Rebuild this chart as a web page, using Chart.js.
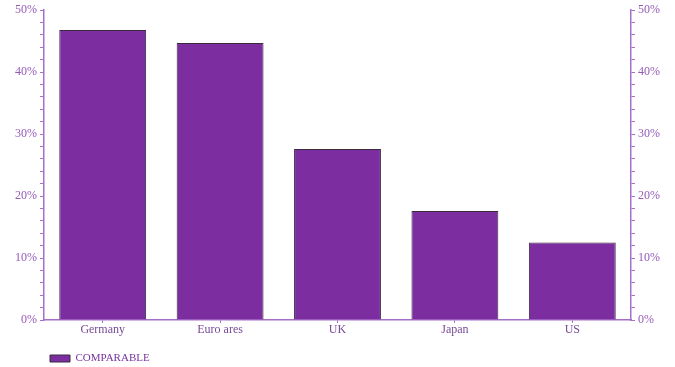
<!DOCTYPE html>
<html>
<head>
<meta charset="utf-8">
<script src="https://cdn.jsdelivr.net/npm/chart.js@4.4.1/dist/chart.umd.min.js"></script>
<style>
  html, body { margin: 0; padding: 0; background: #fff; }
  #wrap { width: 675px; height: 367px; position: relative; }
</style>
</head>
<body>
<div id="wrap"><canvas id="shareChart"></canvas></div>
<script>
const countries = ['Germany', 'Euro ares', 'UK', 'Japan', 'US'];
const comparable = [46.8, 44.7, 27.6, 17.6, 12.5];
const seriesName = 'COMPARABLE';
const axisMax = 50;
const minorStep = 2;
const majorStep = 10;

const purple = 'rgb(124, 46, 160)';
const axisPurple = 'rgb(165, 110, 200)';
const labelPurple = 'rgb(150, 90, 185)';

Chart.defaults.font.family = "'Liberation Serif', 'Times New Roman', serif";

// shared look for both percentage axes; only every 10% gets a label
function percentAxis(position, width) {
    return {
        position: position,
        min: 0,
        max: axisMax,
        afterFit: s => { s.width = width; },
        border: { color: axisPurple, width: 1.5 },
        grid: {
            drawOnChartArea: false,
            tickLength: 4,
            tickColor: axisPurple,
            tickWidth: 1
        },
        ticks: {
            stepSize: minorStep,
            autoSkip: false,
            padding: 3,
            color: labelPurple,
            font: { size: 12 },
            callback: v => v % majorStep === 0 ? v + '%' : ''
        }
    };
}

const ctx = document.getElementById('shareChart').getContext('2d');
const chart = new Chart(ctx, {
    type: 'bar',
    data: {
        labels: countries,
        datasets: [{
            label: seriesName,
            data: comparable,
            backgroundColor: purple,
            borderColor: '#3a2a40',
            borderWidth: 1,
            borderSkipped: 'bottom',
            categoryPercentage: 0.74,
            barPercentage: 1
        }]
    },
    options: {
        responsive: true,
        maintainAspectRatio: false,
        animation: false,
        layout: { padding: { top: 7, left: 0, right: 0, bottom: -7 } },
        plugins: {
            tooltip: { enabled: false },
            legend: {
                position: 'bottom',
                align: 'start',
                fullSize: false,
                labels: {
                    boxWidth: 20,
                    boxHeight: 7,
                    padding: 6,
                    color: 'rgb(120, 50, 160)',
                    font: { size: 11 }
                }
            }
        },
        scales: {
            x: {
                afterFit: s => { s.height = 27; },
                border: { color: axisPurple, width: 1.5 },
                grid: {
                    offset: false,
                    drawOnChartArea: false,
                    tickLength: 3,
                    tickColor: axisPurple
                },
                ticks: {
                    padding: 0,
                    color: 'rgb(120, 75, 150)',
                    font: { size: 12 }
                }
            },
            y: percentAxis('left', 44),
            y2: percentAxis('right', 44)
        }
    }
});
</script>
</body>
</html>
